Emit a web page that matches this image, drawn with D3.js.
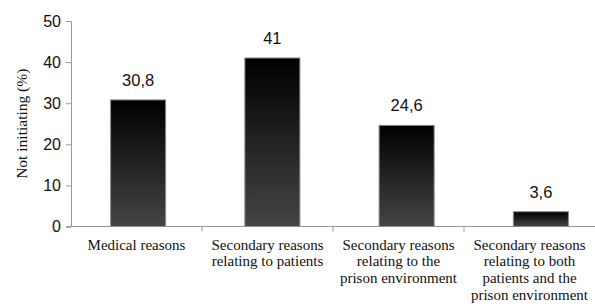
<!DOCTYPE html>
<html>
<head>
<meta charset="utf-8">
<script src="https://cdn.jsdelivr.net/npm/d3@7"></script>
<style>
  body { margin: 0; background: #fff; }
  svg { display: block; }
</style>
</head>
<body>
<div class="svg-container"></div>
<script>
// chart data
const categories = [
  ['Medical reasons'],
  ['Secondary reasons', 'relating to patients'],
  ['Secondary reasons', 'relating to the', 'prison environment'],
  ['Secondary reasons', 'relating to both', 'patients and the', 'prison environment']
];
const values = [30.8, 41, 24.6, 3.6];
const valueLabels = ['30,8', '41', '24,6', '3,6'];
const yTicks = [0, 10, 20, 30, 40, 50];

const width = 595;
const height = 304;
const margin = { top: 21, bottom: 78, left: 71 };
const serif = "'Liberation Serif', 'Times New Roman', serif";
const sans = "'Liberation Sans', Arial, sans-serif";

const svg = d3.select('.svg-container')
  .append('svg')
  .attr('width', width)
  .attr('height', height);

// category slots along the axis (ticks + labels)
const xAxisScale = d3.scaleBand()
  .domain(d3.range(values.length))
  .range([margin.left, width]);

// bars sit slightly further right than the slots in the original
const x = d3.scaleBand()
  .domain(d3.range(values.length))
  .range([margin.left, 608])
  .paddingInner(0.59)
  .paddingOuter(0.295);

const y = d3.scaleLinear()
  .domain([0, 50])
  .range([height - margin.bottom + 0.5, margin.top]);

// gradient for the bars
const grad = svg.append('defs').append('linearGradient')
  .attr('id', 'barGrad')
  .attr('x1', 0).attr('y1', 0).attr('x2', 0).attr('y2', 1);
grad.append('stop').attr('offset', '0%').attr('stop-color', '#000');
grad.append('stop').attr('offset', '100%').attr('stop-color', '#454545');

// y axis
const yAxis = svg.append('g')
  .attr('transform', `translate(${margin.left},0)`)
  .call(d3.axisLeft(y).tickValues(yTicks).tickSize(5).tickPadding(5));
yAxis.select('.domain').attr('stroke', '#999');
yAxis.selectAll('.tick line').attr('stroke', '#999');
yAxis.selectAll('.tick text')
  .style('font-family', sans)
  .style('font-size', '16px')
  .attr('fill', '#111');

// x axis with ticks between categories
const baseY = y(0);
svg.append('line')
  .attr('x1', margin.left - 5).attr('x2', width)
  .attr('y1', baseY).attr('y2', baseY)
  .attr('stroke', '#999');
svg.selectAll('.xtick')
  .data(d3.range(1, values.length))
  .enter()
  .append('line')
  .attr('x1', i => xAxisScale(i))
  .attr('x2', i => xAxisScale(i))
  .attr('y1', baseY).attr('y2', baseY + 5)
  .attr('stroke', '#999');

// bars
svg.selectAll('.bar')
  .data(values)
  .enter()
  .append('rect')
  .attr('x', (d, i) => x(i))
  .attr('y', d => y(d))
  .attr('width', x.bandwidth())
  .attr('height', d => baseY - y(d))
  .attr('fill', 'url(#barGrad)')
  .attr('stroke', '#8a8a8a')
  .attr('stroke-width', 1);

// value labels
svg.selectAll('.val')
  .data(values)
  .enter()
  .append('text')
  .attr('x', (d, i) => x(i) + x.bandwidth() / 2)
  .attr('y', d => y(d) - 14)
  .attr('text-anchor', 'middle')
  .style('font-family', sans)
  .style('font-size', '16.5px')
  .attr('fill', '#111')
  .text((d, i) => valueLabels[i]);

// category labels
const cat = svg.selectAll('.cat')
  .data(categories)
  .enter()
  .append('text')
  .attr('text-anchor', 'middle')
  .style('font-family', serif)
  .style('font-size', '15px')
  .attr('fill', '#111');
cat.each(function (lines, i) {
  d3.select(this).selectAll('tspan')
    .data(lines)
    .enter()
    .append('tspan')
    .attr('x', xAxisScale(i) + xAxisScale.bandwidth() / 2)
    .attr('y', (l, j) => baseY + 23 + j * 16.8)
    .text(l => l);
});

// y axis title
svg.append('text')
  .attr('transform', `translate(27,${(y(0) + y(50)) / 2}) rotate(-90)`)
  .attr('text-anchor', 'middle')
  .style('font-family', serif)
  .style('font-size', '15.5px')
  .attr('fill', '#111')
  .text('Not initiating (%)');
</script>
</body>
</html>
